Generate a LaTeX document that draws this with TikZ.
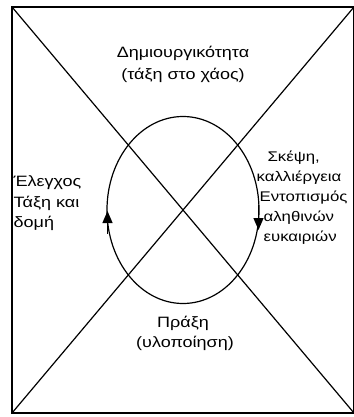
\documentclass[tikz,border=0pt]{standalone}
\usepackage{fontspec}
\setmainfont[FakeStretch=1.2]{Liberation Sans}
\usetikzlibrary{shapes.geometric,arrows.meta}
\begin{document}
\begin{tikzpicture}[x=1pt,y=-1pt,line width=1.2pt,
  lbl/.style={font=\fontsize{15}{17}\selectfont, inner sep=0pt},
  ll/.style={lbl, anchor=west},
  rl/.style={anchor=west, inner sep=0pt, font=\fontsize{14}{16}\selectfont},
  tip/.style={-{Triangle[width=10pt,length=12pt]}}]
\useasboundingbox (0,0) rectangle (353,417);
\coordinate (tl) at (12,7);
\coordinate (tr) at (354,7);
\coordinate (bl) at (12,413);
\coordinate (br) at (354,413);
\draw[line width=1.6pt] (tl) -- (tr) -- (br) -- (bl) -- cycle;
\draw (tl) -- (br);
\draw (bl) -- (tr);
\node[draw, ellipse, minimum width=152pt, minimum height=187pt, inner sep=0pt] (cyc) at (183,210) {};
\draw[tip] (107.5,234) -- (107.5,211);
\draw[tip] (258.5,205) -- (258.5,230);
\node[lbl] (t1) at (183,53) {Δημιουργικότητα};
\node[lbl] (t2) at (183,75) {(τάξη στο χάος)};
\node[lbl] (b1) at (183,323) {Πράξη};
\node[lbl] (b2) at (185,343) {(υλοποίηση)};
\node[ll] (l1) at (13,183) {Έλεγχος};
\node[ll] (l2) at (13,203) {Τάξη και};
\node[ll] (l3) at (13,223) {δομή};
\node[rl] (r1) at (267,158) {Σκέψη,};
\node[rl] (r2) at (256,178) {καλλιέργεια};
\node[rl] (r3) at (259,198) {Εντοπισμός};
\node[rl] (r4) at (263,218) {αληθινών};
\node[rl] (r5) at (263,238) {ευκαιριών};
\end{tikzpicture}
\end{document}
